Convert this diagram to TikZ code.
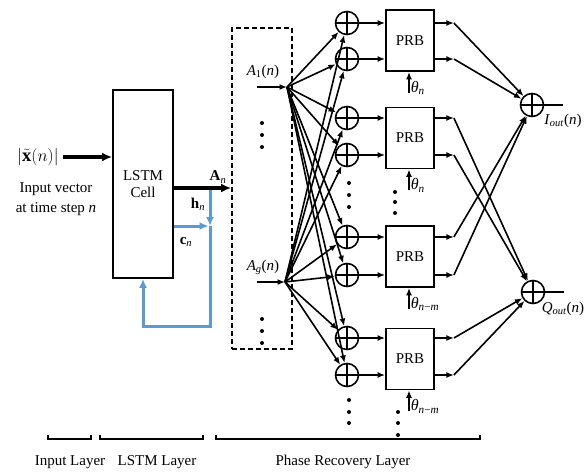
\documentclass[tikz,border=0pt]{standalone}
\usepackage{fontspec}
\setmainfont{Liberation Serif}
\usetikzlibrary{arrows.meta,calc}
\definecolor{lblue}{HTML}{5B9BD5}
\begin{document}
\begin{tikzpicture}[x=1pt,y=-1pt,
  font=\fontsize{15}{17}\selectfont,
  line width=1.6pt,
  arr/.style={-{Latex[length=7.5pt,width=6pt]}},
  thickarr/.style={line width=3.2pt,-{Latex[length=10pt,width=9pt]}},
  barr/.style={draw=lblue,line width=3pt,-{Latex[length=9pt,width=8pt]}},
  adder/.style={circle,draw,minimum size=23pt,inner sep=0pt,line width=1.6pt,
    path picture={\draw[line width=1.6pt] (path picture bounding box.north)--(path picture bounding box.south) (path picture bounding box.west)--(path picture bounding box.east);}},
  prbbox/.style={draw,minimum width=48pt,minimum height=61pt,inner sep=0pt,line width=1.8pt},
  lbl/.style={inner sep=1pt},
  ]
\useasboundingbox (0,0) rectangle (588,472);

% ---------- input ----------
\node[lbl,font=\fontsize{18.5}{20}\selectfont] (xin) at (38,157) {$\bigl|\tilde{\mathbf{x}}(n)\bigr|$};
\node[lbl,align=center,font=\fontsize{15}{20}\selectfont] (xtxt) at (56,199) {Input vector\\at time step \textit{n}};

% ---------- LSTM ----------
\node[draw,line width=1.8pt,minimum width=60pt,minimum height=188pt,align=center,inner sep=0pt] (lstm) at (143,184) {LSTM\\Cell};
\node[draw,dashed,dash pattern=on 5pt off 3pt,line width=1.8pt,minimum width=60pt,minimum height=321pt,inner sep=0pt] (dbox) at (262,188.5) {};

\coordinate (an) at (210,188);
\coordinate (bj) at (210,226);
\coordinate (bl) at (210,326);
\draw[barr] (an) -- (bj);
\draw[barr] (bj -| lstm.east) -- ([xshift=-1.5pt]bj);
\draw[barr] (bj) -- (bl) -| (lstm.south);
\draw[thickarr] (xin.east) ++(3,0) -- (xin.east -| lstm.west);
\draw[thickarr] (an -| lstm.east) -- (an -| dbox.west);
\node[lbl] (anl) at (218,177) {\textbf{A}\textsubscript{\textit{n}}};
\node[lbl] (hnl) at (198,204) {\textbf{h}\textsubscript{\textit{n}}};
\node[lbl] (cnl) at (186,242) {\textbf{c}\textsubscript{\textit{n}}};

% ---------- amplitudes ----------
\coordinate (A1s) at (257,87);
\coordinate (A1) at (287,87);
\coordinate (Ags) at (257,282);
\coordinate (Ag) at (285,282);
\draw[arr] (A1s) -- (A1);
\draw[arr] (Ags) -- (Ag);
\node[lbl] (a1l) at (263,72) {\textit{A}\textsubscript{1}(\textit{n})};
\node[lbl] (agl) at (263,267) {\textit{A}\textsubscript{\textit{g}}(\textit{n})};
\foreach \y in {123,135,147,319,331,343} \fill (262,\y) circle (2pt);

% ---------- adders and PRBs ----------
\foreach \i/\y in {1/23,2/59,3/118,4/155,5/237,6/275,7/338,8/375}
  \node[adder] (s\i) at (347,\y) {};
\node[prbbox] (prb1) at (410,40.5) {PRB};
\node[prbbox] (prb2) at (410,138) {PRB};
\node[prbbox] (prb3) at (410,256.5) {PRB};
\node[prbbox] (prb4) at (410,359) {PRB};

\foreach \i in {1,...,8} {
  \draw[arr] (A1) -- (s\i);
  \draw[arr] (Ag) -- (s\i);
}
\foreach \i/\p in {1/1,2/1,3/2,4/2,5/3,6/3,7/4,8/4} {
  \draw[arr] (s\i) -- (s\i -| prb\p.west);
  \coordinate (o\i) at ($(s\i -| prb\p.east)+(19,0)$);
  \draw[arr] (s\i -| prb\p.east) -- (o\i);
}

\foreach \y in {183,195,207,400,412,423} \fill (349,\y) circle (2pt);
\foreach \y in {192,202,213} \fill (395,\y) circle (2pt);
\foreach \y in {412,423,435} \fill (398,\y) circle (2pt);

% thetas
\foreach \p/\t in {1/{\textit{n}},2/{\textit{n}},3/{\textit{n}−\textit{m}},4/{\textit{n}−\textit{m}}} {
  \coordinate (t\p) at ($(prb\p.south)+(-1,21)$);
  \draw[arr] (t\p) -- (t\p |- prb\p.south);
  \node[lbl,anchor=west,font=\fontsize{16}{18}\selectfont] at ($(t\p)+(0,-5)$) {\textit{θ}\textsubscript{\t}};
}

% ---------- output sums ----------
\node[adder] (sI) at (532,105) {};
\node[adder] (sQ) at (533,292) {};
\foreach \i/\t in {1/I,2/I,3/Q,4/Q,5/I,6/I,7/Q,8/Q}
  \draw[arr] (o\i) -- (s\t);
\coordinate (eI) at (563,105);
\coordinate (eQ) at (564,292);
\draw (sI.east) -- (eI);
\draw (sQ.east) -- (eQ);
\node[lbl] (il) at (563,121) {\textit{I}\textsubscript{\textit{out}}(\textit{n})};
\node[lbl] (ql) at (563,309) {\textit{Q}\textsubscript{\textit{out}}(\textit{n})};

% ---------- layer brackets ----------
\draw[line width=1.8pt] (48,435) -- (48,439) -- (91,439) -- (91,435);
\draw[line width=1.8pt] (100,435) -- (100,439) -- (203,439) -- (203,435);
\draw[line width=1.8pt] (216,435) -- (216,439) -- (480,439) -- (480,435);
\node[lbl] (l1) at (70,462) {Input Layer};
\node[lbl] (l2) at (157,462) {LSTM Layer};
\node[lbl] (l3) at (343,462) {Phase Recovery Layer};
\end{tikzpicture}
\end{document}
